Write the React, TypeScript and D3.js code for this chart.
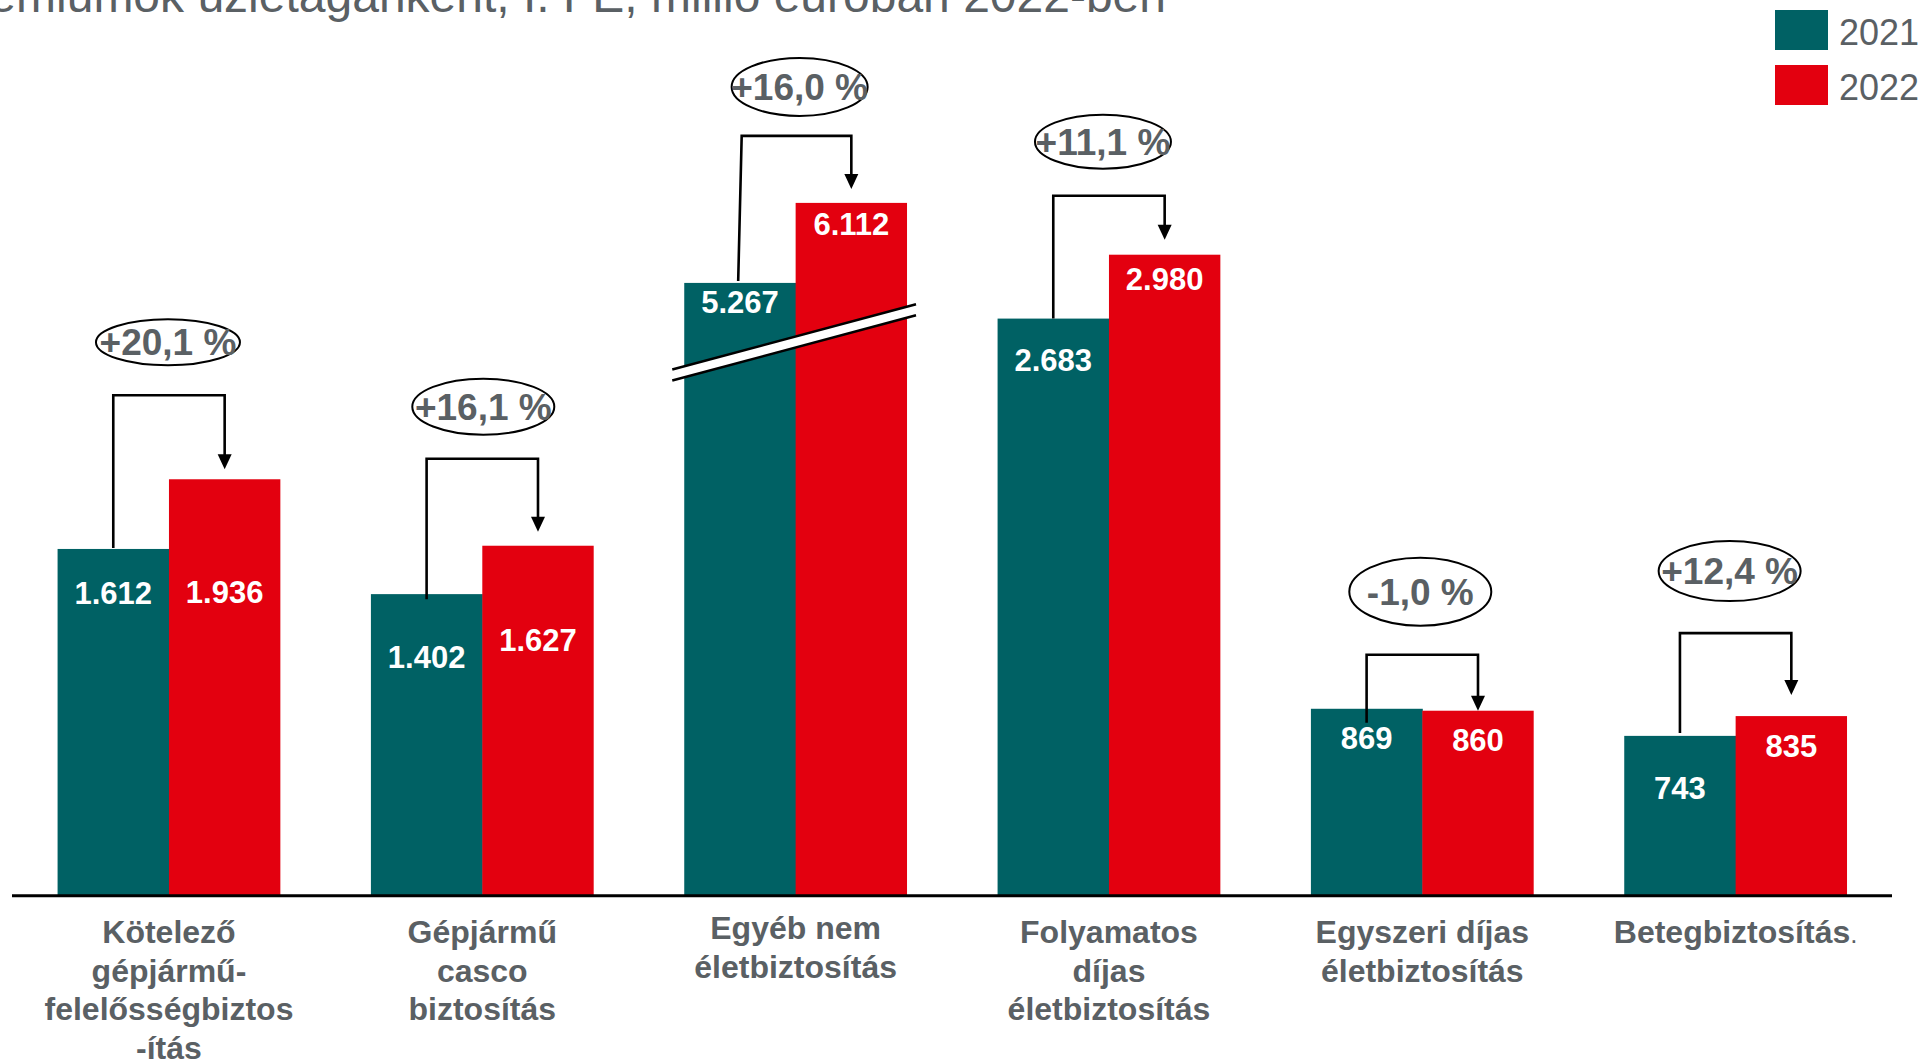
import React, { useEffect } from "react";
import * as d3 from "d3";

// ---------- data ----------
const categories = [
  "Kötelező gépjármű-felelősségbiztosítás",
  "Gépjármű casco biztosítás",
  "Egyéb nem életbiztosítás",
  "Folyamatos díjas életbiztosítás",
  "Egyszeri díjas életbiztosítás",
  "Betegbiztosítás",
];
const categoryLines = [
  ["Kötelező", "gépjármű-", "felelősségbiztos", "-ítás"],
  ["Gépjármű", "casco", "biztosítás"],
  ["Egyéb nem", "életbiztosítás"],
  ["Folyamatos", "díjas", "életbiztosítás"],
  ["Egyszeri díjas", "életbiztosítás"],
  ["Betegbiztosítás"],
];
const seriesNames = ["2021", "2022"];
const values2021 = [1612, 1402, 5267, 2683, 869, 743];
const values2022 = [1936, 1627, 6112, 2980, 860, 835];
const changeLabels = ["+20,1 %", "+16,1 %", "+16,0 %", "+11,1 %", "-1,0 %", "+12,4 %"];
const brokenCategory = 2;
const titleText = "Prémiumok üzletáganként, I. FÉ, millió euróban 2022-ben";

// ---------- layout / style ----------
const W = 1921;
const H = 1060;
const BASELINE = 895.7;
const PX_PER_UNIT = 0.2151;
const BREAK_PX_PER_UNIT = 0.0947;
const BREAK_OFFSET = 114;
const TEAL = "#006164";
const RED = "#e3000f";
const GRAY = "#5a6064";
const FONT = "'Liberation Sans', Arial, Helvetica, sans-serif";

// value label centre offsets below bar top
const labelOff2021 = [44, 63, 19, 41, 29, 52];
const labelOff2022 = [113, 94, 21, 24, 29, 30];
// bracket / ellipse annotation layout
const annotLayout = [
  { rise: 84, tipGap: 10, leftExt: -1, ex: -1, ey: 53, rx: 72, ry: 23, slant: 0 },
  { rise: 87, tipGap: 14, leftExt: 5, ex: 1, ey: 52, rx: 71, ry: 28, slant: 0 },
  { rise: 67, tipGap: 14, leftExt: -2, ex: 4, ey: 49, rx: 68, ry: 29, slant: 3.5 },
  { rise: 59, tipGap: 15, leftExt: 0, ex: -6, ey: 54, rx: 68, ry: 27, slant: 0 },
  { rise: 56, tipGap: 0, leftExt: 14, ex: -2, ey: 63, rx: 71, ry: 34, slant: 0 },
  { rise: 83, tipGap: 21, leftExt: -3, ex: -6, ey: 62, rx: 71, ry: 30, slant: 0 },
];

const fmt = d3.formatLocale({ decimal: ",", thousands: ".", grouping: [3], currency: ["", ""] }).format(",");

export default function App() {
  useEffect(() => {
    document.body.style.margin = "0";
    document.body.style.overflow = "hidden";
  }, []);

  const idx = categories.map((_, i) => String(i));
  const x = d3.scaleBand().domain(idx).range([12.3, 1892.3]).paddingInner(0.289).paddingOuter(0.1445);
  const xs = d3.scaleBand().domain(seriesNames).range([0, x.bandwidth()]);
  const y = d3.scaleLinear().domain([0, 1000]).range([BASELINE, BASELINE - 1000 * PX_PER_UNIT]);
  const yBroken = d3
    .scaleLinear()
    .domain([0, 1000])
    .range([BASELINE - BREAK_OFFSET, BASELINE - BREAK_OFFSET - 1000 * BREAK_PX_PER_UNIT]);
  const yOf = (i: number, v: number) => (i === brokenCategory ? yBroken(v) : y(v));

  const series = [values2021, values2022];
  const colors = [TEAL, RED];
  const offs = [labelOff2021, labelOff2022];

  const bw = xs.bandwidth();

  // break band through broken group
  const bx0 = (x(String(brokenCategory)) as number) - 12;
  const bx1 = (x(String(brokenCategory)) as number) + x.bandwidth() + 9;
  const slope = -0.268;
  const bcx = (x(String(brokenCategory)) as number) + x.bandwidth() / 2;
  const bcy = 342;
  const by = (xx: number) => bcy + slope * (xx - bcx);
  const gap = 5.5;

  return (
    <svg width={W} height={H} style={{ position: "absolute", left: 0, top: 0, background: "#fff" }} fontFamily={FONT}>
      {/* title (cut at top) */}
      <text x={1166} y={12} textAnchor="end" fontSize={48} fill={GRAY}>
        {titleText}
      </text>

      {/* legend */}
      {seriesNames.map((s, k) => (
        <g key={s}>
          <rect x={1775} y={10 + k * 55} width={53} height={40} fill={colors[k]} />
          <text x={1839} y={45 + k * 55} fontSize={36} fill={GRAY}>
            {s}
          </text>
        </g>
      ))}

      {/* bars */}
      {categories.map((c, i) => (
        <g key={c}>
          {series.map((vals, k) => {
            const x0 = (x(String(i)) as number) + (xs(seriesNames[k]) as number);
            const top = yOf(i, vals[i]);
            return (
              <rect key={k} x={x0} y={top} width={bw + (k === 0 ? 0.5 : 0)} height={BASELINE - top} fill={colors[k]} />
            );
          })}
        </g>
      ))}

      {/* break band */}
      <polygon
        points={`${bx0},${by(bx0) - gap} ${bx1},${by(bx1) - gap} ${bx1},${by(bx1) + gap} ${bx0},${by(bx0) + gap}`}
        fill="#fff"
      />
      <line x1={bx0} y1={by(bx0) - gap} x2={bx1} y2={by(bx1) - gap} stroke="#000" strokeWidth={2.5} />
      <line x1={bx0} y1={by(bx0) + gap} x2={bx1} y2={by(bx1) + gap} stroke="#000" strokeWidth={2.5} />

      {/* value labels */}
      {categories.map((c, i) =>
        series.map((vals, k) => {
          const cx = (x(String(i)) as number) + (xs(seriesNames[k]) as number) + bw / 2;
          const top = yOf(i, vals[i]);
          return (
            <text
              key={c + k}
              x={cx}
              y={top + offs[k][i] + 11}
              textAnchor="middle"
              fontSize={31}
              fontWeight="bold"
              fill="#fff"
            >
              {fmt(vals[i])}
            </text>
          );
        })
      )}

      {/* annotations */}
      {categories.map((c, i) => {
        const a = annotLayout[i];
        const lx = (x(String(i)) as number) + (xs(seriesNames[0]) as number) + bw / 2;
        const rxp = (x(String(i)) as number) + (xs(seriesNames[1]) as number) + bw / 2;
        const t1 = yOf(i, values2021[i]);
        const t2 = yOf(i, values2022[i]);
        const topY = t2 - a.rise;
        const tip = t2 - a.tipGap;
        const gc = (x(String(i)) as number) + x.bandwidth() / 2;
        const ecx = gc + a.ex;
        const ecy = topY - a.ey;
        return (
          <g key={"a" + c}>
            <polyline
              points={`${lx - a.slant / 2},${t1 + a.leftExt} ${lx + a.slant / 2},${topY} ${rxp},${topY} ${rxp},${tip - 14}`}
              fill="none"
              stroke="#000"
              strokeWidth={2.6}
            />
            <polygon points={`${rxp - 7},${tip - 15} ${rxp + 7},${tip - 15} ${rxp},${tip}`} fill="#000" />
            <ellipse cx={ecx} cy={ecy} rx={a.rx} ry={a.ry} fill="#fff" stroke="#000" strokeWidth={2} />
            <text x={ecx} y={ecy + 13} textAnchor="middle" fontSize={37} fontWeight="bold" fill={GRAY}>
              {changeLabels[i]}
            </text>
          </g>
        );
      })}

      {/* axis */}
      <line x1={12} x2={1892} y1={BASELINE} y2={BASELINE} stroke="#000" strokeWidth={3} />

      {/* category labels */}
      {categoryLines.map((lines, i) => {
        const gc = (x(String(i)) as number) + x.bandwidth() / 2;
        const dy = i === brokenCategory ? -4 : 0;
        return (
          <text key={"c" + i} textAnchor="middle" fontSize={32} fontWeight="bold" fill={GRAY}>
            {lines.map((ln, j) => (
              <tspan key={j} x={gc} y={943 + dy + j * 38.5}>
                {ln}
                {i === categoryLines.length - 1 && j === lines.length - 1 ? (
                  <tspan fontWeight="normal" fontSize={26}>
                    .
                  </tspan>
                ) : null}
              </tspan>
            ))}
          </text>
        );
      })}
    </svg>
  );
}
